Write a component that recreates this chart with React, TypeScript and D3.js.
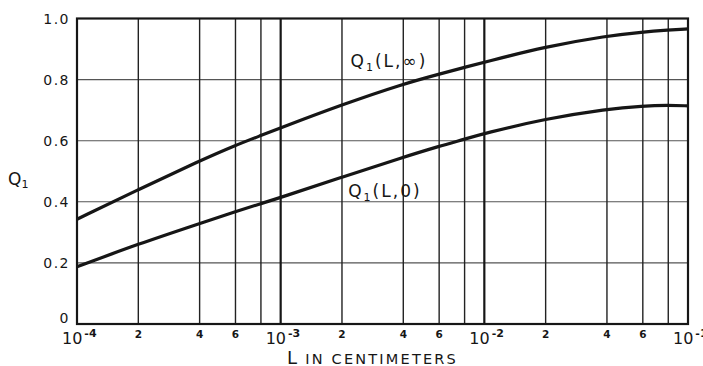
import React from "react";
import * as d3 from "d3";

const W = 703;
const H = 366;

// Data
const decades = [1e-4, 1e-3, 1e-2, 1e-1];
const decadeExponents = ["-4", "-3", "-2", "-1"];
const minorMultipliers = [2, 4, 6, 8];
const minorLabelled = [2, 4, 6];
const yTicks = [0, 0.2, 0.4, 0.6, 0.8, 1.0];
const yTickLabels = ["0", "0.2", "0.4", "0.6", "0.8", "1.0"];
const Lvalues = [1e-4, 2e-4, 4e-4, 6e-4, 8e-4, 1e-3, 2e-3, 4e-3, 6e-3, 8e-3, 1e-2, 2e-2, 4e-2, 6e-2, 8e-2, 1e-1];
const qInf = [0.343, 0.44, 0.534, 0.585, 0.617, 0.642, 0.718, 0.786, 0.818, 0.84, 0.857, 0.908, 0.943, 0.956, 0.962, 0.966];
const qZero = [0.187, 0.262, 0.329, 0.368, 0.394, 0.414, 0.481, 0.546, 0.582, 0.605, 0.624, 0.672, 0.704, 0.714, 0.716, 0.714];
const curveLabels = [
  { L: 3.4e-3, q: 0.84, arg: "L,∞" },
  { L: 3.25e-3, q: 0.417, arg: "L,0" },
];

const FONT = "'DejaVu Sans', sans-serif";
const INK = "#161616";

export default function App() {
  const x = d3.scaleLog().domain([1e-4, 1e-1]).range([77, 688]);
  const y = d3.scaleLinear().domain([0, 1]).range([324, 18.5]);

  const minorTicks: number[] = [];
  decades.slice(0, 3).forEach((d) => minorMultipliers.forEach((m) => minorTicks.push(d * m)));

  const line = d3
    .line<number>()
    .x((_, i) => x(Lvalues[i]))
    .y((v) => y(v))
    .curve(d3.curveBasis);

  return (
    <svg
      width={W}
      height={H}
      style={{ position: "absolute", left: 0, top: 0, background: "#fff" }}
      fontFamily={FONT}
    >
      <rect x={0} y={0} width={W} height={H} fill="#fff" />
      {/* horizontal grid */}
      {yTicks.slice(1, 5).map((t) => (
        <line key={"h" + t} x1={x(1e-4)} x2={x(1e-1)} y1={y(t)} y2={y(t)} stroke="#555" strokeWidth={1.1} />
      ))}
      {/* minor vertical grid */}
      {minorTicks.map((t) => (
        <line key={"m" + t} x1={x(t)} x2={x(t)} y1={y(1)} y2={y(0)} stroke="#222" strokeWidth={1.4} />
      ))}
      {/* decade vertical grid */}
      {decades.slice(1, 3).map((t) => (
        <line key={"d" + t} x1={x(t)} x2={x(t)} y1={y(1)} y2={y(0)} stroke={INK} strokeWidth={2.2} />
      ))}
      {/* frame */}
      <rect
        x={x(1e-4)}
        y={y(1)}
        width={x(1e-1) - x(1e-4)}
        height={y(0) - y(1)}
        fill="none"
        stroke={INK}
        strokeWidth={2.2}
      />
      {/* curves */}
      <path d={line(qInf) || ""} fill="none" stroke={INK} strokeWidth={3.2} />
      <path d={line(qZero) || ""} fill="none" stroke={INK} strokeWidth={3.2} />

      {/* curve labels */}
      {curveLabels.map((c) => (
        <text
          key={c.arg}
          x={x(c.L)}
          y={y(c.q)}
          textAnchor="middle"
          fontSize={17}
          fill={INK}
          letterSpacing={2}
        >
          <tspan>Q</tspan>
          <tspan fontSize={11} dy={4}>1</tspan>
          <tspan dy={-4}>({c.arg})</tspan>
        </text>
      ))}

      {/* y tick labels */}
      {yTicks.map((t, i) => (
        <text
          key={"yl" + t}
          x={70}
          y={t === 0 ? y(t) - 1 : y(t) + 5}
          textAnchor="end"
          fontSize={14}
          fill={INK}
          letterSpacing={1.5}
        >
          {yTickLabels[i]}
        </text>
      ))}

      {/* y axis title */}
      <text x={8} y={185} fontSize={17} fill={INK}>
        <tspan>Q</tspan>
        <tspan fontSize={11} dy={3}>1</tspan>
      </text>

      {/* x decade labels */}
      {decades.map((d, i) => (
        <text key={"xd" + d} x={x(d) - 15} y={344} fontSize={16} fill={INK}>
          <tspan>10</tspan>
          <tspan fontSize={11} dx={2} dy={-7} fontWeight="bold">{decadeExponents[i]}</tspan>
        </text>
      ))}
      {/* x minor labels */}
      {decades.slice(0, 3).map((d) =>
        minorLabelled.map((m) => (
          <text
            key={"xm" + d * m}
            x={x(d * m)}
            y={338}
            textAnchor="middle"
            fontSize={10.5}
            fontWeight="bold"
            fill={INK}
          >
            {m}
          </text>
        ))
      )}

      {/* x axis title */}
      <text x={287} y={364} fill={INK} letterSpacing={2.2}>
        <tspan fontSize={18}>L</tspan>
        <tspan fontSize={14.5} dx={6}>IN CENTIMETERS</tspan>
      </text>
    </svg>
  );
}
